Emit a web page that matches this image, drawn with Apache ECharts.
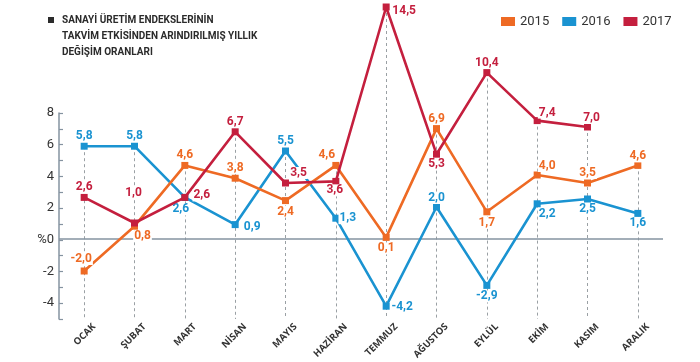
<!DOCTYPE html>
<html><head><meta charset="utf-8">
<script src="https://cdn.jsdelivr.net/npm/echarts@6/dist/echarts.min.js"></script>
<style>html,body{margin:0;padding:0;background:#fff}#c{width:700px;height:362px}</style>
</head><body><div id="c"></div>
<script>
const months = ['OCAK','ŞUBAT','MART','NİSAN','MAYIS','HAZİRAN','TEMMUZ','AĞUSTOS','EYLÜL','EKİM','KASIM','ARALIK'];
const years = ['2015','2016','2017'];
const v2015 = [-2.0, 0.8, 4.6, 3.8, 2.4, 4.6, 0.1, 6.9, 1.7, 4.0, 3.5, 4.6];
const v2016 = [5.8, 5.8, 2.6, 0.9, 5.5, 1.3, -4.2, 2.0, -2.9, 2.2, 2.5, 1.6];
const v2017 = [2.6, 1.0, 2.6, 6.7, 3.5, 3.6, 14.5, 5.3, 10.4, 7.4, 7.0, null];
const yTickLabels = [-4, -2, 0, 2, 4, 6, 8];
const titleLines = ['SANAYİ ÜRETİM ENDEKSLERİNİN', 'TAKVİM ETKİSİNDEN ARINDIRILMIŞ YILLIK', 'DEĞİŞİM ORANLARI'];

// label placement (style only)
const off2015 = [[-3,-12],[8,10],[0,-10],[0,-10],[0,11],[-9,-10],[0,11],[0,-10],[0,11],[10,-9],[0,-10],[0,-9]];
const off2016 = [[0,-10],[0,-10],[-4,12],[17,2],[0,-10],[12,0],[16,1],[0,-9],[0,11],[10,10],[0,10],[0,10]];
const off2017 = [[0,-10],[-1,-30],[17,-2],[0,-10],[13,-10],[-1,9],[18,4],[0,10],[0,-10],[10,-8],[4,-9],[0,0]];

const colors = ['#EE6A24', '#1A93D1', '#C41F3E'];
const axisGray = '#8593a0';
const fmt = v => v.toFixed(1).replace('.', ',');

function mkSeries(name, vals, offs, color, z) {
  return {
    name, type: 'line', xAxisIndex: 0, yAxisIndex: 0, z, zlevel: 1,
    data: vals.map((v, i) => ({ value: v, label: { offset: offs[i] } })),
    symbol: 'rect', symbolSize: 7,
    lineStyle: { color, width: 2.6 },
    itemStyle: { color },
    label: {
      show: true, position: 'inside', color,
      fontFamily: 'Roboto', fontWeight: 'bold', fontSize: 12,
      backgroundColor: '#fff', padding: [0, 1, 0, 1],
      formatter: p => (p.value == null ? '' : fmt(p.value))
    },
    emphasis: { disabled: true },
    animation: false
  };
}

const colMax = months.map((m, i) => Math.max(...[v2015[i], v2016[i], v2017[i]].filter(v => v != null)));

const option = {
  animation: false,
  grid: [
    { left: 59, width: 604, top: 5, bottom: 43 },
    { left: 59, width: 604, top: 113, bottom: 43 },
    { left: 69, width: 604, top: 113, bottom: 43 }
  ],
  legend: {
    data: years, left: 501, top: 15, icon: 'rect', itemWidth: 14, itemHeight: 9, itemGap: 13,
    padding: 0, textStyle: { fontSize: 13, color: '#333', fontFamily: 'Roboto' }
  },
  graphic: [
    { type: 'rect', shape: { x: 48, y: 17, width: 6, height: 6 }, style: { fill: '#2b2b2b' } },
    { type: 'text', x: 62, y: 12, style: { text: titleLines.join('\n'), font: 'bold 10px Roboto', lineHeight: 16, fill: '#2b2b2b', verticalAlign: 'top' } }
  ],
  xAxis: [
    { type: 'category', gridIndex: 0, data: months, show: false },
    { type: 'category', gridIndex: 1, data: months, show: false },
    { type: 'category', gridIndex: 2, data: months,
      axisLine: { show: false }, axisTick: { show: false },
      axisLabel: { interval: 0, rotate: 45, margin: 10, fontSize: 9.5, fontWeight: 'bold', color: '#333', fontFamily: 'Open Sans' } }
  ],
  yAxis: [
    { type: 'value', gridIndex: 0, min: -5, max: 14.625, show: false, splitLine: { show: false } },
    { type: 'value', gridIndex: 1, min: -5, max: 8, interval: 1,
      axisLine: { show: true, lineStyle: { color: axisGray, width: 1.5 } },
      axisTick: { show: true, inside: true, length: 4, lineStyle: { color: axisGray, width: 1.2 } },
      splitLine: { show: false },
      axisLabel: { margin: 5, fontSize: 13, color: '#333', fontFamily: 'Roboto',
        formatter: v => yTickLabels.includes(v) ? (v === 0 ? '%0' : String(v)) : '' } },
    { type: 'value', gridIndex: 2, min: -5, max: 8, show: false }
  ],
  series: [
    {
      type: 'line', name: 'guides', xAxisIndex: 0, yAxisIndex: 0, z: 1, zlevel: 0,
      data: months.map(() => null), silent: true,
      markLine: {
        z: 1, silent: true, symbol: 'none', label: { show: false }, animation: false,
        lineStyle: { color: '#9aa0a4', type: [3, 3], width: 1 },
        data: [
          ...months.map((m, i) => [{ coord: [i, colMax[i]] }, { coord: [i, -5] }]),
          { yAxis: 0, lineStyle: { color: axisGray, type: 'solid', width: 1.5 } }
        ]
      }
    },
    mkSeries('2016', v2016, off2016, colors[1], 3),
    mkSeries('2015', v2015, off2015, colors[0], 4),
    mkSeries('2017', v2017, off2017, colors[2], 5)
  ]
};
const chart = echarts.init(document.getElementById('c'), null, { renderer: 'canvas' });
chart.setOption(option);
</script></body></html>
